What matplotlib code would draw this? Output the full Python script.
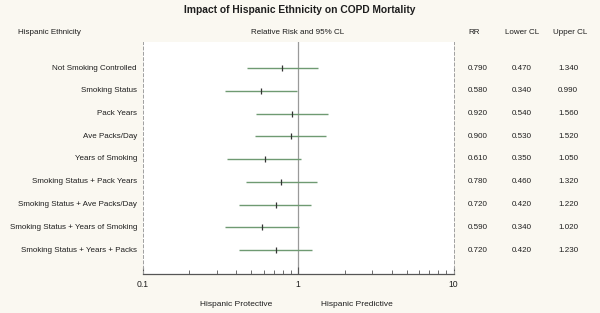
import matplotlib
matplotlib.use("Agg")
import matplotlib.pyplot as plt
import matplotlib.transforms as mtransforms
from matplotlib.ticker import LogLocator, NullFormatter, FixedFormatter, FixedLocator

labels = ["Not Smoking Controlled", "Smoking Status", "Pack Years", "Ave Packs/Day",
          "Years of Smoking", "Smoking Status + Pack Years",
          "Smoking Status + Ave Packs/Day", "Smoking Status + Years of Smoking",
          "Smoking Status + Years + Packs"]
rr = [0.79, 0.58, 0.92, 0.90, 0.61, 0.78, 0.72, 0.59, 0.72]
lower = [0.47, 0.34, 0.54, 0.53, 0.35, 0.46, 0.42, 0.34, 0.42]
upper = [1.34, 0.99, 1.56, 1.52, 1.05, 1.32, 1.22, 1.02, 1.23]

W, H = 600, 313
bg = "#faf8f1"
txt = "#1e1e1e"
plt.rcParams["font.family"] = ["Liberation Sans", "DejaVu Sans"]

fig = plt.figure(figsize=(6, 3.13), dpi=100, facecolor=bg)
ax = fig.add_axes([142.5 / W, 1 - 274 / H, 311 / W, 232 / H])
ax.set_facecolor("white")

def fx(px):
    return px / W

def fy(py):
    return 1 - py / H

ys = list(range(len(labels)))
ax.axvline(1, color="#9a9a9a", lw=0.9, zorder=1)
ax.hlines(ys, lower, upper, color="#6f9a72", lw=1.0, zorder=2)
ax.plot(rr, ys, linestyle="none", marker="|", markersize=5, mew=0.9, color="#333333", zorder=3)

ax.set_xscale("log")
ax.set_xlim(0.1, 10)
ax.set_ylim(len(labels) - 1 + 24 / 22.75, -26 / 22.75)
ax.set_yticks([])
ax.xaxis.set_major_locator(FixedLocator([0.1, 1, 10]))
ax.xaxis.set_major_formatter(FixedFormatter(["0.1", "1", "10"]))
ax.xaxis.set_minor_locator(LogLocator(base=10, subs=range(2, 10)))
ax.xaxis.set_minor_formatter(NullFormatter())
ax.tick_params(axis="x", which="major", direction="in", length=5, width=0.8,
               color="#555555", labelsize=6.2, labelcolor=txt, pad=4)
ax.tick_params(axis="x", which="minor", direction="in", length=3, width=0.6, color="#555555")

ax.spines["top"].set_visible(False)
ax.spines["bottom"].set_color("#555555")
ax.spines["bottom"].set_linewidth(0.9)
for side in ("left", "right"):
    ax.spines[side].set_color("#a0a0a0")
    ax.spines[side].set_linestyle((0, (3, 2.5)))
    ax.spines[side].set_linewidth(0.7)

fig.text(0.5, fy(10), "Impact of Hispanic Ethnicity on COPD Mortality", ha="center", va="center",
         fontsize=7.4, fontweight="bold", color=txt)
hdr = dict(fontsize=5.8, color=txt, va="center")
fig.text(fx(18), fy(32), "Hispanic Ethnicity", ha="left", **hdr)
fig.text(fx(298), fy(32), "Relative Risk and 95% CL", ha="center", **hdr)
fig.text(fx(474), fy(32), "RR", ha="center", **hdr)
fig.text(fx(522), fy(32), "Lower CL", ha="center", **hdr)
fig.text(fx(570), fy(32), "Upper CL", ha="center", **hdr)

trans = mtransforms.blended_transform_factory(fig.transFigure, ax.transData)
for i, lab in enumerate(labels):
    ax.text(fx(137), i, lab, transform=trans, ha="right", va="center", fontsize=5.8, color=txt)
    ax.text(fx(478), i, "%.3f" % rr[i], transform=trans, ha="center", va="center", fontsize=5.8, color=txt)
    ax.text(fx(522), i, "%.3f" % lower[i], transform=trans, ha="center", va="center", fontsize=5.8, color=txt)
    ax.text(fx(568), i, "%.3f" % upper[i], transform=trans, ha="center", va="center", fontsize=5.8, color=txt)

fig.text(fx(236), fy(304), "Hispanic Protective", ha="center", va="center", fontsize=6, color=txt)
fig.text(fx(357), fy(304), "Hispanic Predictive", ha="center", va="center", fontsize=6, color=txt)

fig.savefig("out.png", dpi=100, facecolor=bg)
